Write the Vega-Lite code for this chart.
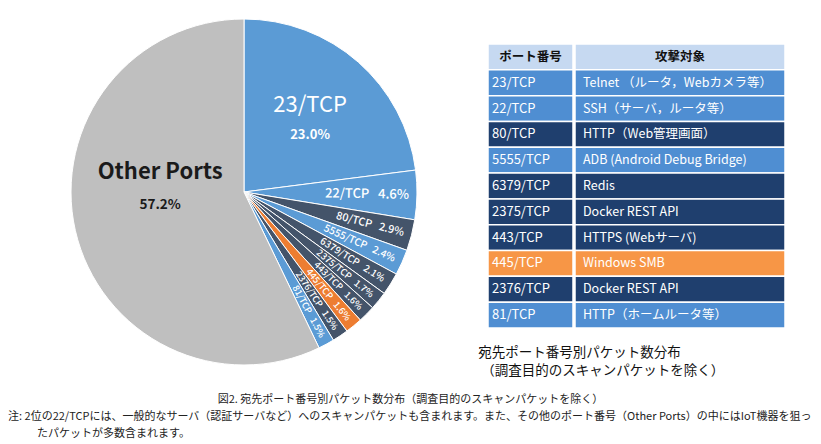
{
  "$schema": "https://vega.github.io/schema/vega-lite/v6.json",
  "padding": 0,
  "background": "white",
  "config": {
    "view": {"stroke": null},
    "font": "Noto Sans CJK JP",
    "text": {"font": "Noto Sans CJK JP"},
    "title": {"font": "Noto Sans CJK JP", "subtitleFont": "Noto Sans CJK JP"}
  },
  "datasets": {
    "ports": [
      {"rank": 0, "port": "ポート番号", "target": "攻撃対象", "pct": null, "kind": "header"},
      {"rank": 1, "port": "23/TCP", "target": "Telnet （ルータ，Webカメラ等）", "pct": 23.0, "kind": "blue"},
      {"rank": 2, "port": "22/TCP", "target": "SSH（サーバ，ルータ等）", "pct": 4.6, "kind": "blue"},
      {"rank": 3, "port": "80/TCP", "target": "HTTP（Web管理画面）", "pct": 2.9, "kind": "dark"},
      {"rank": 4, "port": "5555/TCP", "target": "ADB (Android Debug Bridge)", "pct": 2.4, "kind": "blue"},
      {"rank": 5, "port": "6379/TCP", "target": "Redis", "pct": 2.1, "kind": "dark"},
      {"rank": 6, "port": "2375/TCP", "target": "Docker REST API", "pct": 1.7, "kind": "dark"},
      {"rank": 7, "port": "443/TCP", "target": "HTTPS (Webサーバ)", "pct": 1.6, "kind": "dark"},
      {"rank": 8, "port": "445/TCP", "target": "Windows SMB", "pct": 1.6, "kind": "orange"},
      {"rank": 9, "port": "2376/TCP", "target": "Docker REST API", "pct": 1.5, "kind": "dark"},
      {"rank": 10, "port": "81/TCP", "target": "HTTP（ホームルータ等）", "pct": 1.5, "kind": "blue"},
      {"rank": 11, "port": "Other Ports", "target": null, "pct": 57.2, "kind": "other"}
    ]
  },
  "spacing": 9,
  "vconcat": [
    {
      "spacing": -15,
      "resolve": {"scale": {"color": "independent"}},
      "hconcat": [
        {
          "width": 488,
          "height": 384,
          "data": {"name": "ports"},
          "transform": [
            {"filter": "datum.kind !== 'header'"},
            {"window": [{"op": "sum", "field": "pct", "as": "cum"}], "sort": [{"field": "rank", "order": "ascending"}], "frame": [null, 0]},
            {"joinaggregate": [{"op": "sum", "field": "pct", "as": "total"}]},
            {"calculate": "(datum.cum - datum.pct / 2) / datum.total * 360 - 90", "as": "ang"},
            {"calculate": "datum.port + '\u00a0\u00a0\u00a0' + format(datum.pct, '.1f') + '%'", "as": "lab"},
            {"calculate": "format(datum.pct, '.1f') + '%'", "as": "pctlab"}
          ],
          "encoding": {
            "theta": {"field": "pct", "type": "quantitative", "stack": true},
            "order": {"field": "rank", "type": "quantitative", "sort": "ascending"},
            "detail": {"field": "port", "type": "nominal"}
          },
          "layer": [
            {
              "mark": {"type": "arc", "outerRadius": 173, "stroke": "white", "strokeWidth": 1},
              "encoding": {
                "color": {"field": "kind", "type": "nominal", "legend": null,
                  "scale": {"domain": ["blue", "dark", "orange", "other"], "range": ["#5B9BD5", "#44546A", "#ED7D31", "#BFBFBF"]}}
              }
            },
            {
              "mark": {"type": "text", "radius": 100, "dy": -12, "fontSize": 22, "color": "white"},
              "encoding": {"text": {"condition": {"test": "datum.rank === 1", "field": "port", "type": "nominal"}, "value": ""}}
            },
            {
              "mark": {"type": "text", "radius": 100, "dy": 18, "fontSize": 13, "fontWeight": "bold", "color": "white"},
              "encoding": {"text": {"condition": {"test": "datum.rank === 1", "field": "pctlab", "type": "nominal"}, "value": ""}}
            },
            {
              "mark": {"type": "text", "radius": 86, "dy": -39, "fontSize": 22, "fontWeight": "bold", "color": "#1a1a1a"},
              "encoding": {"text": {"condition": {"test": "datum.rank === 11", "field": "port", "type": "nominal"}, "value": ""}}
            },
            {
              "mark": {"type": "text", "radius": 86, "dy": -6, "fontSize": 13.5, "fontWeight": "bold", "color": "#1a1a1a"},
              "encoding": {"text": {"condition": {"test": "datum.rank === 11", "field": "pctlab", "type": "nominal"}, "value": ""}}
            },
            {
              "mark": {"type": "text", "radius": 165, "align": "right", "baseline": "middle", "color": "white", "fontWeight": 500},
              "encoding": {
                "text": {"condition": {"test": "datum.rank >= 2 && datum.rank <= 10", "field": "lab", "type": "nominal"}, "value": ""},
                "angle": {"field": "ang", "type": "quantitative", "scale": null},
                "size": {"field": "pct", "type": "quantitative", "legend": null, "scale": {"domain": [1.5, 4.6], "range": [9, 13], "clamp": true}}
              }
            }
          ]
        },
        {
          "spacing": 0,
          "title": {
            "text": ["宛先ポート番号別パケット数分布", "\u200b\u00a0（調査目的のスキャンパケットを除く）"],
            "orient": "bottom", "anchor": "start", "fontSize": 13.5, "fontWeight": "normal",
            "color": "#111111", "offset": 17, "lineHeight": 18, "dx": -9
          },
          "hconcat": [
            {
              "width": 85,
              "height": 328,
              "data": {"name": "ports"},
              "transform": [{"filter": "datum.kind !== 'other'"}],
              "encoding": {
                "y": {"field": "port", "type": "nominal", "axis": null,
                  "sort": {"field": "rank", "op": "min", "order": "ascending"},
                  "scale": {"paddingInner": 0, "paddingOuter": 0.852, "align": 1}}
              },
              "layer": [
                {
                  "mark": {"type": "rect", "stroke": "white", "strokeWidth": 1.5},
                  "encoding": {
                    "x": {"datum": 0, "type": "quantitative", "scale": {"domain": [0, 1]}, "axis": null},
                    "x2": {"datum": 1},
                    "color": {"field": "kind", "type": "nominal", "legend": null,
                      "scale": {"domain": ["header", "blue", "dark", "orange"], "range": ["#C6D9F1", "#4F8ED2", "#1F3F6E", "#F79646"]}}
                  }
                },
                {
                  "mark": {"type": "text", "fontSize": 12.5, "fontWeight": "bold", "color": "#111111"},
                  "encoding": {
                    "x": {"datum": 0.5, "type": "quantitative"},
                    "text": {"condition": {"test": "datum.rank === 0", "field": "port", "type": "nominal"}, "value": ""}
                  }
                },
                {
                  "mark": {"type": "text", "fontSize": 13, "align": "left", "dx": 4, "color": "white"},
                  "encoding": {
                    "x": {"datum": 0, "type": "quantitative"},
                    "text": {"condition": {"test": "datum.rank > 0", "field": "port", "type": "nominal"}, "value": ""}
                  }
                }
              ]
            },
            {
              "width": 210,
              "height": 328,
              "data": {"name": "ports"},
              "transform": [{"filter": "datum.kind !== 'other'"}],
              "encoding": {
                "y": {"field": "port", "type": "nominal", "axis": null,
                  "sort": {"field": "rank", "op": "min", "order": "ascending"},
                  "scale": {"paddingInner": 0, "paddingOuter": 0.852, "align": 1}}
              },
              "layer": [
                {
                  "mark": {"type": "rect", "stroke": "white", "strokeWidth": 1.5},
                  "encoding": {
                    "x": {"datum": 0, "type": "quantitative", "scale": {"domain": [0, 1]}, "axis": null},
                    "x2": {"datum": 1},
                    "color": {"field": "kind", "type": "nominal", "legend": null,
                      "scale": {"domain": ["header", "blue", "dark", "orange"], "range": ["#C6D9F1", "#4F8ED2", "#1F3F6E", "#F79646"]}}
                  }
                },
                {
                  "mark": {"type": "text", "fontSize": 12.5, "fontWeight": "bold", "color": "#111111"},
                  "encoding": {
                    "x": {"datum": 0.5, "type": "quantitative"},
                    "text": {"condition": {"test": "datum.rank === 0", "field": "target", "type": "nominal"}, "value": ""}
                  }
                },
                {
                  "mark": {"type": "text", "fontSize": 12.5, "align": "left", "dx": 8, "color": "white"},
                  "encoding": {
                    "x": {"datum": 0, "type": "quantitative"},
                    "text": {"condition": {"test": "datum.rank > 0", "field": "target", "type": "nominal"}, "value": ""}
                  }
                }
              ]
            }
          ]
        }
      ]
    },
    {
      "spacing": -8,
      "vconcat": [
        {
          "width": 821,
          "height": 1,
          "data": {"values": [{}]},
          "mark": {"type": "text"},
          "encoding": {"text": {"value": ""}},
          "title": {
            "text": "図2. 宛先ポート番号別パケット数分布（調査目的のスキャンパケットを除く）",
            "anchor": "middle", "fontSize": 11, "fontWeight": "normal", "color": "#222222", "offset": 2
          }
        },
        {
          "width": 821,
          "height": 1,
          "data": {"values": [{}]},
          "mark": {"type": "text"},
          "encoding": {"text": {"value": ""}},
          "title": {
            "text": "注: 2位の22/TCPには、一般的なサーバ（認証サーバなど）へのスキャンパケットも含まれます。また、その他のポート番号（Other Ports）の中にはIoT機器を狙っ",
            "anchor": "start", "fontSize": 11, "fontWeight": "normal", "color": "#222222", "offset": 2, "dx": 8
          }
        },
        {
          "width": 821,
          "height": 1,
          "data": {"values": [{}]},
          "mark": {"type": "text"},
          "encoding": {"text": {"value": ""}},
          "title": {
            "text": "たパケットが多数含まれます。",
            "anchor": "start", "fontSize": 11, "fontWeight": "normal", "color": "#222222", "offset": 2, "dx": 37
          }
        }
      ]
    }
  ]
}
